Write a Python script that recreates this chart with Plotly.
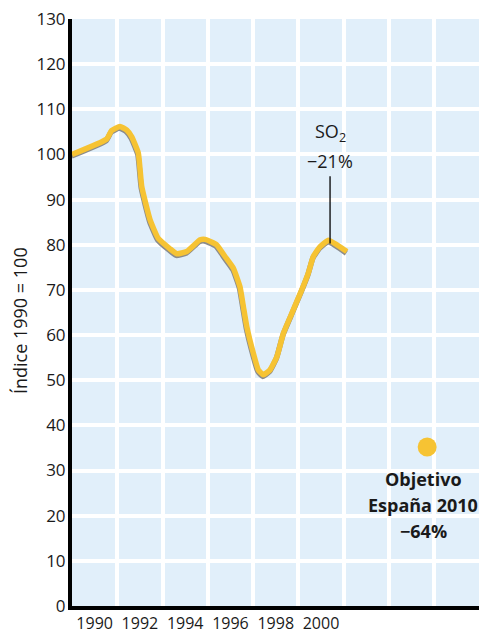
import plotly.graph_objects as go

# ---- data ----
years = [1990.0, 1991.53, 1991.75, 1992.12, 1992.42, 1992.64, 1992.93, 1993.08, 1993.45,
         1993.81, 1994.33, 1994.63, 1995.07, 1995.66, 1995.88, 1996.39, 1996.76, 1997.13,
         1997.42, 1997.57, 1997.72, 1998.01, 1998.23, 1998.45, 1998.75, 1999.05, 1999.34,
         1999.71, 2000.15, 2000.44, 2000.66, 2000.96, 2001.33, 2002.14]
so2_index = [100, 103.4, 105.3, 106.2, 105.4, 103.9, 100.3, 92.9, 85.5,
             81.4, 79.1, 78.0, 78.5, 81.1, 81.2, 80.0, 77.4, 74.8,
             70.7, 66.3, 61.9, 56.0, 52.3, 51.2, 52.3, 55.2, 60.4,
             64.8, 70.0, 73.7, 77.4, 79.6, 81.0, 78.5]

target_x = [2005.69]
target_y = [35.2]

tick_positions = [1991, 1993, 1995, 1997, 1999, 2001]
tick_labels = ["1990", "1992", "1994", "1996", "1998", "2000"]
grid_positions = [1992, 1994, 1996, 1998, 2000, 2002, 2004, 2006]

x_range = [1990, 2007.98]
y_range = [0, 130]

YELLOW = "#F6C333"
BG = "#E1EFFA"
TXT = "#1a1a1a"
FONT = "Open Sans"

fig = go.Figure()

# shadow line (overlay axes shifted slightly)
fig.add_trace(go.Scatter(x=years, y=so2_index, mode="lines",
                         line=dict(color="#8c8c8c", width=5.5, shape="spline", smoothing=0.4),
                         xaxis="x2", yaxis="y2", hoverinfo="skip", showlegend=False))
# main line
fig.add_trace(go.Scatter(x=years, y=so2_index, mode="lines",
                         line=dict(color=YELLOW, width=5.5, shape="spline", smoothing=0.4),
                         xaxis="x3", yaxis="y3", showlegend=False))
# target dot
fig.add_trace(go.Scatter(x=target_x, y=target_y, mode="markers",
                         marker=dict(color=YELLOW, size=19, line=dict(width=0)),
                         showlegend=False))

fig.update_layout(
    width=479, height=629,
    margin=dict(l=72, r=0, t=19, b=23),
    paper_bgcolor="white",
    plot_bgcolor=BG,
    font=dict(family=FONT, color=TXT),
    xaxis=dict(range=x_range, tickmode="array", tickvals=tick_positions, ticktext=tick_labels,
               showgrid=False, zeroline=False, showline=True, linecolor="black", linewidth=4,
               automargin=False, ticklabeloverflow="allow",
               ticks="", ticklabelstandoff=0, tickfont=dict(size=16, family=FONT, color=TXT),
               minor=dict(tickmode="array", tickvals=grid_positions, showgrid=True,
                          gridcolor="white", gridwidth=3.5, ticks="")),
    yaxis=dict(range=y_range, dtick=10, showgrid=True, gridcolor="white", gridwidth=3.5,
               zeroline=False, showline=True, linecolor="black", linewidth=4, automargin=False,
               ticklabeloverflow="allow",
               ticks="", ticklabelstandoff=-1, tickfont=dict(size=17, family=FONT, color=TXT)),
    xaxis2=dict(range=[x_range[0] + 0.02, x_range[1] + 0.02], overlaying="x", visible=False),
    yaxis2=dict(range=[y_range[0] + 0.35, y_range[1] + 0.35], overlaying="y", visible=False),
    xaxis3=dict(range=x_range, overlaying="x", visible=False),
    yaxis3=dict(range=y_range, overlaying="y", visible=False),
)

# pointer line for SO2 label
fig.add_shape(type="line", x0=2001.4, x1=2001.4, y0=80.3, y1=95.2,
              line=dict(color="black", width=1.3), xref="x", yref="y")

fig.add_annotation(x=2001.4, y=104.8, text="SO<sub>2</sub>", showarrow=False,
                   font=dict(size=18, family=FONT, color=TXT), xanchor="center", yanchor="middle")
fig.add_annotation(x=2001.4, y=98.6, text="−21%", showarrow=False,
                   font=dict(size=18, family=FONT, color=TXT), xanchor="center", yanchor="middle")

fig.add_annotation(x=2005.51, y=28.1, text="<b>Objetivo</b>", showarrow=False,
                   font=dict(size=18, family=FONT, color=TXT), xanchor="center", yanchor="middle")
fig.add_annotation(x=2005.51, y=22.4, text="<b>España 2010</b>", showarrow=False,
                   font=dict(size=18, family=FONT, color=TXT), xanchor="center", yanchor="middle")
fig.add_annotation(x=2005.51, y=16.6, text="<b>−64%</b>", showarrow=False,
                   font=dict(size=18, family=FONT, color=TXT), xanchor="center", yanchor="middle")

# y-axis title
fig.add_annotation(x=-0.128, y=0.487, xref="paper", yref="paper", text="Índice 1990 = 100",
                   textangle=-90, showarrow=False, font=dict(size=18, family=FONT, color=TXT),
                   xanchor="center", yanchor="middle")

fig.write_html("out.html",
               config={"displayModeBar": False},
               post_script="document.body.style.margin='0';"
                           "document.documentElement.style.overflow='hidden';")
